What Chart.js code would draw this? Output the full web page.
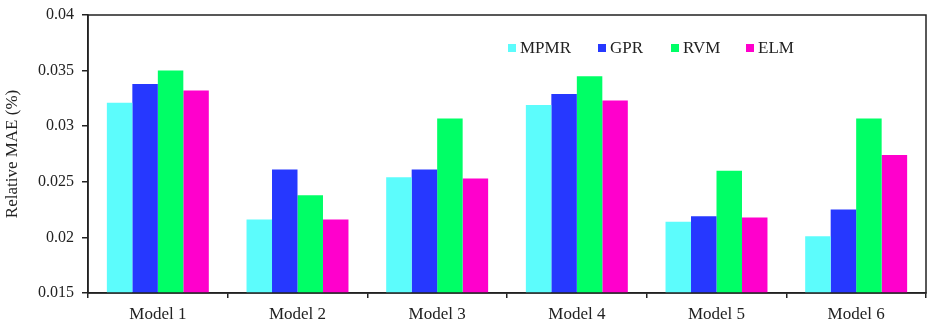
<!DOCTYPE html>
<html><head><meta charset="utf-8">
<script src="https://cdn.jsdelivr.net/npm/chart.js@4"></script>
<style>html,body{margin:0;padding:0;background:#fff}#wrap{width:927px;height:321px}</style>
</head><body><div id="wrap"><canvas id="c" width="927" height="321"></canvas></div>
<script>
const categories = ["Model 1","Model 2","Model 3","Model 4","Model 5","Model 6"];
const seriesNames = ["MPMR","GPR","RVM","ELM"];
const mpmr = [0.0321,0.0216,0.0254,0.0319,0.0214,0.0201];
const gpr  = [0.0338,0.0261,0.0261,0.0329,0.0219,0.0225];
const rvm  = [0.0350,0.0238,0.0307,0.0345,0.0260,0.0307];
const elm  = [0.0332,0.0216,0.0253,0.0323,0.0218,0.0274];
const yTicks = [0.015,0.02,0.025,0.03,0.035,0.04];
const colors = ["#5CFCFC","#2638FF","#00FF66","#FF00CC"];
const FONT = "'Liberation Serif','Times New Roman',serif";

const frame = {
  id:'frame',
  afterDraw(chart){
    const {ctx, chartArea:a} = chart;
    ctx.save();
    ctx.strokeStyle='#222'; ctx.lineWidth=1.5;
    ctx.strokeRect(a.left, a.top, a.right-a.left, a.bottom-a.top);
    const lx=[508,598,671,746], ly=48;
    ctx.font = "17px " + FONT; ctx.textBaseline='middle'; ctx.textAlign='left';
    chart.data.datasets.forEach((d,i)=>{
      ctx.fillStyle=d.backgroundColor;
      ctx.fillRect(lx[i], ly-4, 8, 8);
      ctx.fillStyle='#222';
      ctx.fillText(d.label, lx[i]+12, ly+1);
    });
    ctx.restore();
  }
};

new Chart(document.getElementById('c'), {
  type:'bar',
  data:{
    labels:categories,
    datasets:[mpmr,gpr,rvm,elm].map((d,i)=>({label:seriesNames[i],data:d,backgroundColor:colors[i],borderWidth:0,barPercentage:1,categoryPercentage:0.73}))
  },
  options:{
    responsive:false, animation:false,
    layout:{padding:{top:15,right:1,left:0,bottom:0}},
    plugins:{legend:{display:false},tooltip:{enabled:false}},
    scales:{
      x:{
        grid:{display:true,drawOnChartArea:false,tickLength:5,color:'#222',lineWidth:1.5},
        border:{display:true,color:'#222',width:1.5},
        ticks:{color:'#222',font:{family:FONT,size:17},padding:6},
        afterFit(s){s.height=28;s.paddingLeft=0;s.paddingRight=0;}
      },
      y:{
        min:0.015,max:0.04,
        afterBuildTicks(s){s.ticks=yTicks.map(v=>({value:v}));},
        grid:{display:true,drawOnChartArea:false,tickLength:6,color:'#222',lineWidth:1.5},
        border:{display:true,color:'#222',width:1.5},
        ticks:{color:'#222',font:{family:FONT,size:16},padding:8,callback:v=>String(+v.toFixed(3))},
        title:{display:true,text:'Relative MAE (%)',color:'#222',font:{family:FONT,size:17},padding:{top:2,bottom:4}},
        afterFit(s){s.width=88;s.paddingTop=0;s.paddingBottom=0;}
      }
    }
  },
  plugins:[frame]
});
</script></body></html>
